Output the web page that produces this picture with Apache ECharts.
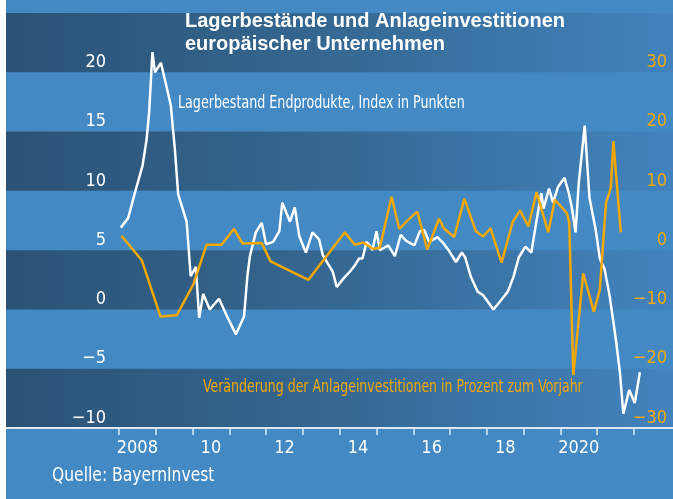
<!DOCTYPE html>
<html>
<head>
<meta charset="utf-8">
<script src="https://cdn.jsdelivr.net/npm/echarts@6/dist/echarts.min.js"></script>
<style>
  html, body { margin: 0; padding: 0; background: #fff; }
  #chart { width: 673px; height: 499px; }
</style>
</head>
<body>
<div id="chart"></div>
<script>
// Lagerbestand Endprodukte (linke Achse, Index in Punkten)
var lagerYears = [2008.05, 2008.25, 2008.43, 2008.64, 2008.75, 2008.82, 2008.91, 2008.98, 2009.14, 2009.27,
    2009.41, 2009.52, 2009.61, 2009.84, 2009.95, 2010.09, 2010.18, 2010.29, 2010.47, 2010.72,
    2010.94, 2011.18, 2011.40, 2011.49, 2011.56, 2011.72, 2011.88, 2012.00, 2012.19, 2012.36,
    2012.44, 2012.65, 2012.78, 2012.90, 2013.08, 2013.26, 2013.44, 2013.54, 2013.69, 2013.81,
    2013.92, 2014.10, 2014.28, 2014.41, 2014.53, 2014.62, 2014.73, 2014.84, 2014.89, 2015.00,
    2015.09, 2015.21, 2015.32, 2015.50, 2015.66, 2015.80, 2016.03, 2016.18, 2016.30, 2016.43,
    2016.66, 2016.84, 2016.98, 2017.16, 2017.32, 2017.41, 2017.56, 2017.75, 2017.90, 2018.18,
    2018.39, 2018.57, 2018.72, 2018.87, 2019.05, 2019.21, 2019.34, 2019.48, 2019.54, 2019.69,
    2019.80, 2019.93, 2020.11, 2020.23, 2020.32, 2020.41, 2020.50, 2020.66, 2020.79, 2020.96,
    2021.07, 2021.20, 2021.34, 2021.51, 2021.62, 2021.71, 2021.87, 2022.02, 2022.16];
var lagerValues = [6.9, 7.7, 9.8, 12.1, 14.3, 16.6, 21.7, 20.0, 20.8, 19.1,
    17.2, 13.5, 9.7, 7.4, 2.8, 3.6, -0.7, 1.3, 0.0, 0.9,
    -0.6, -2.1, -0.6, 2.8, 4.5, 6.5, 7.3, 5.5, 5.7, 6.6,
    9.0, 7.4, 8.6, 6.2, 4.8, 6.5, 5.9, 4.6, 3.8, 3.2,
    1.9, 2.6, 3.2, 3.7, 4.3, 4.3, 5.7, 5.3, 5.0, 6.6,
    5.0, 5.2, 5.4, 4.5, 6.3, 5.8, 5.4, 6.6, 6.7, 5.7,
    6.1, 5.5, 4.9, 4.0, 4.8, 4.4, 2.8, 1.5, 1.2, 0.0,
    0.8, 1.5, 2.7, 4.4, 5.3, 4.8, 7.3, 9.8, 8.5, 10.2,
    9.0, 10.3, 11.1, 9.8, 8.4, 6.5, 10.7, 15.5, 9.4, 6.7,
    4.3, 3.4, 1.1, -2.6, -5.4, -8.8, -6.8, -7.9, -5.3];

// Anlageinvestitionen, Veraenderung zum Vorjahr in % (rechte Achse)
var investYears = [2008.07, 2008.62, 2009.13, 2009.57, 2010.02, 2010.38, 2010.79, 2011.13, 2011.36, 2011.88,
    2012.12, 2013.15, 2014.14, 2014.41, 2014.64, 2014.91, 2015.09, 2015.41, 2015.62, 2015.91,
    2016.11, 2016.38, 2016.70, 2016.83, 2017.11, 2017.39, 2017.70, 2017.90, 2018.10, 2018.40,
    2018.70, 2018.90, 2019.13, 2019.35, 2019.67, 2019.85, 2020.17, 2020.24, 2020.35, 2020.62,
    2020.91, 2021.07, 2021.24, 2021.37, 2021.44, 2021.64];
var investValues = [2.4, -1.7, -11.2, -11.0, -5.8, 0.9, 0.9, 3.6, 1.1, 1.2,
    -1.9, -5.0, 3.0, 0.9, 1.3, 0.2, 0.4, 9.0, 3.6, 5.4,
    6.5, 0.1, 5.3, 3.7, 2.2, 8.7, 3.2, 2.3, 3.7, -2.1,
    4.7, 6.7, 4.0, 9.8, 3.0, 8.5, 6.3, 4.6, -21.1, -3.9,
    -10.4, -6.7, 8.0, 10.5, 18.4, 3.0];

var tickYears = [2008, 2009, 2010, 2011, 2012, 2013, 2014, 2015, 2016, 2017, 2018, 2019, 2020, 2021, 2022];
var labelYears = [2008, 2010, 2012, 2014, 2016, 2018, 2020];

var NARROW = "'Liberation Sans Narrow', 'DejaVu Sans Condensed', sans-serif";
var ORANGE = '#f5a800';
var LIGHT = '#4389c4';

function zip(xs, ys) {
    return xs.map(function (x, i) { return [x, ys[i]]; });
}
function minus(v) {
    return String(v).replace('-', '\u2212');
}

var chart = echarts.init(document.getElementById('chart'));

var darkBand = new echarts.graphic.LinearGradient(0, 0, 1, 0, [
    { offset: 0, color: '#2b5275' },
    { offset: 0.45, color: '#34668f' },
    { offset: 1, color: '#4283be' }
]);

var option = {
    backgroundColor: LIGHT,
    animation: false,
    grid: { left: 6, right: 0, top: 13, bottom: 71 },
    title: {
        text: 'Lagerbestände und Anlageinvestitionen\neuropäischer Unternehmen',
        left: 185,
        top: 10,
        padding: 0,
        textStyle: {
            color: '#fff',
            fontFamily: "'Liberation Sans', Arial, sans-serif",
            fontWeight: 'bold',
            fontSize: 20,
            lineHeight: 23
        }
    },
    graphic: [
        { type: 'rect', z: 100, left: 0, top: 0, shape: { width: 6, height: 499 }, style: { fill: '#fff' } },
        {
            type: 'text', z: 100, x: 178, y: 95, scaleX: 0.83,
            style: { text: 'Lagerbestand Endprodukte, Index in Punkten', fill: '#fff', font: '17px ' + NARROW }
        },
        {
            type: 'text', z: 100, x: 203, y: 379, scaleX: 0.82,
            style: { text: 'Veränderung der Anlageinvestitionen in Prozent zum Vorjahr', fill: ORANGE, font: '17px ' + NARROW }
        },
        {
            type: 'text', z: 100, x: 52, y: 467, scaleX: 0.91,
            style: { text: 'Quelle: BayernInvest', fill: '#fff', font: '19px ' + NARROW }
        }
    ],
    xAxis: {
        type: 'value',
        min: 2004.93,
        max: 2023.06,
        splitLine: { show: false },
        axisLine: { onZero: false, lineStyle: { color: '#dde7f1', width: 2 } },
        axisTick: {
            customValues: tickYears,
            length: 7,
            lineStyle: { color: '#dde7f1', width: 1.5 }
        },
        axisLabel: {
            customValues: labelYears.map(function (y) { return y + 0.5; }),
            margin: 11,
            color: '#fff',
            fontFamily: NARROW,
            fontSize: 18,
            formatter: function (v) {
                var y = Math.floor(v);
                return (y === 2008 || y === 2020) ? String(y) : String(y).slice(2);
            }
        }
    },
    yAxis: [{
        type: 'value',
        min: -10,
        max: 25,
        interval: 5,
        position: 'left',
        axisLine: { show: false },
        axisTick: { show: false },
        splitLine: { show: false },
        splitArea: { show: true, areaStyle: { color: [darkBand, 'rgba(0,0,0,0)'] } },
        axisLabel: {
            margin: -100,
            align: 'right',
            verticalAlign: 'bottom',
            padding: [0, 0, 1, 0],
            color: '#fff',
            fontFamily: NARROW,
            fontSize: 18,
            formatter: function (v) { return v === 25 ? '' : minus(v); }
        }
    }, {
        type: 'value',
        min: -30,
        max: 40,
        interval: 10,
        position: 'right',
        axisLine: { show: false },
        axisTick: { show: false },
        splitLine: { show: false },
        axisLabel: {
            margin: -6,
            align: 'right',
            verticalAlign: 'bottom',
            padding: [0, 0, 1, 0],
            color: ORANGE,
            fontFamily: NARROW,
            fontSize: 18,
            formatter: function (v) { return v === 40 ? '' : minus(v); }
        }
    }],
    series: [{
        type: 'line',
        yAxisIndex: 0,
        data: zip(lagerYears, lagerValues),
        showSymbol: false,
        lineStyle: { color: '#fff', width: 2.5 }
    }, {
        type: 'line',
        yAxisIndex: 1,
        data: zip(investYears, investValues),
        showSymbol: false,
        lineStyle: { color: ORANGE, width: 2.5 }
    }]
};

chart.setOption(option);
</script>
</body>
</html>
